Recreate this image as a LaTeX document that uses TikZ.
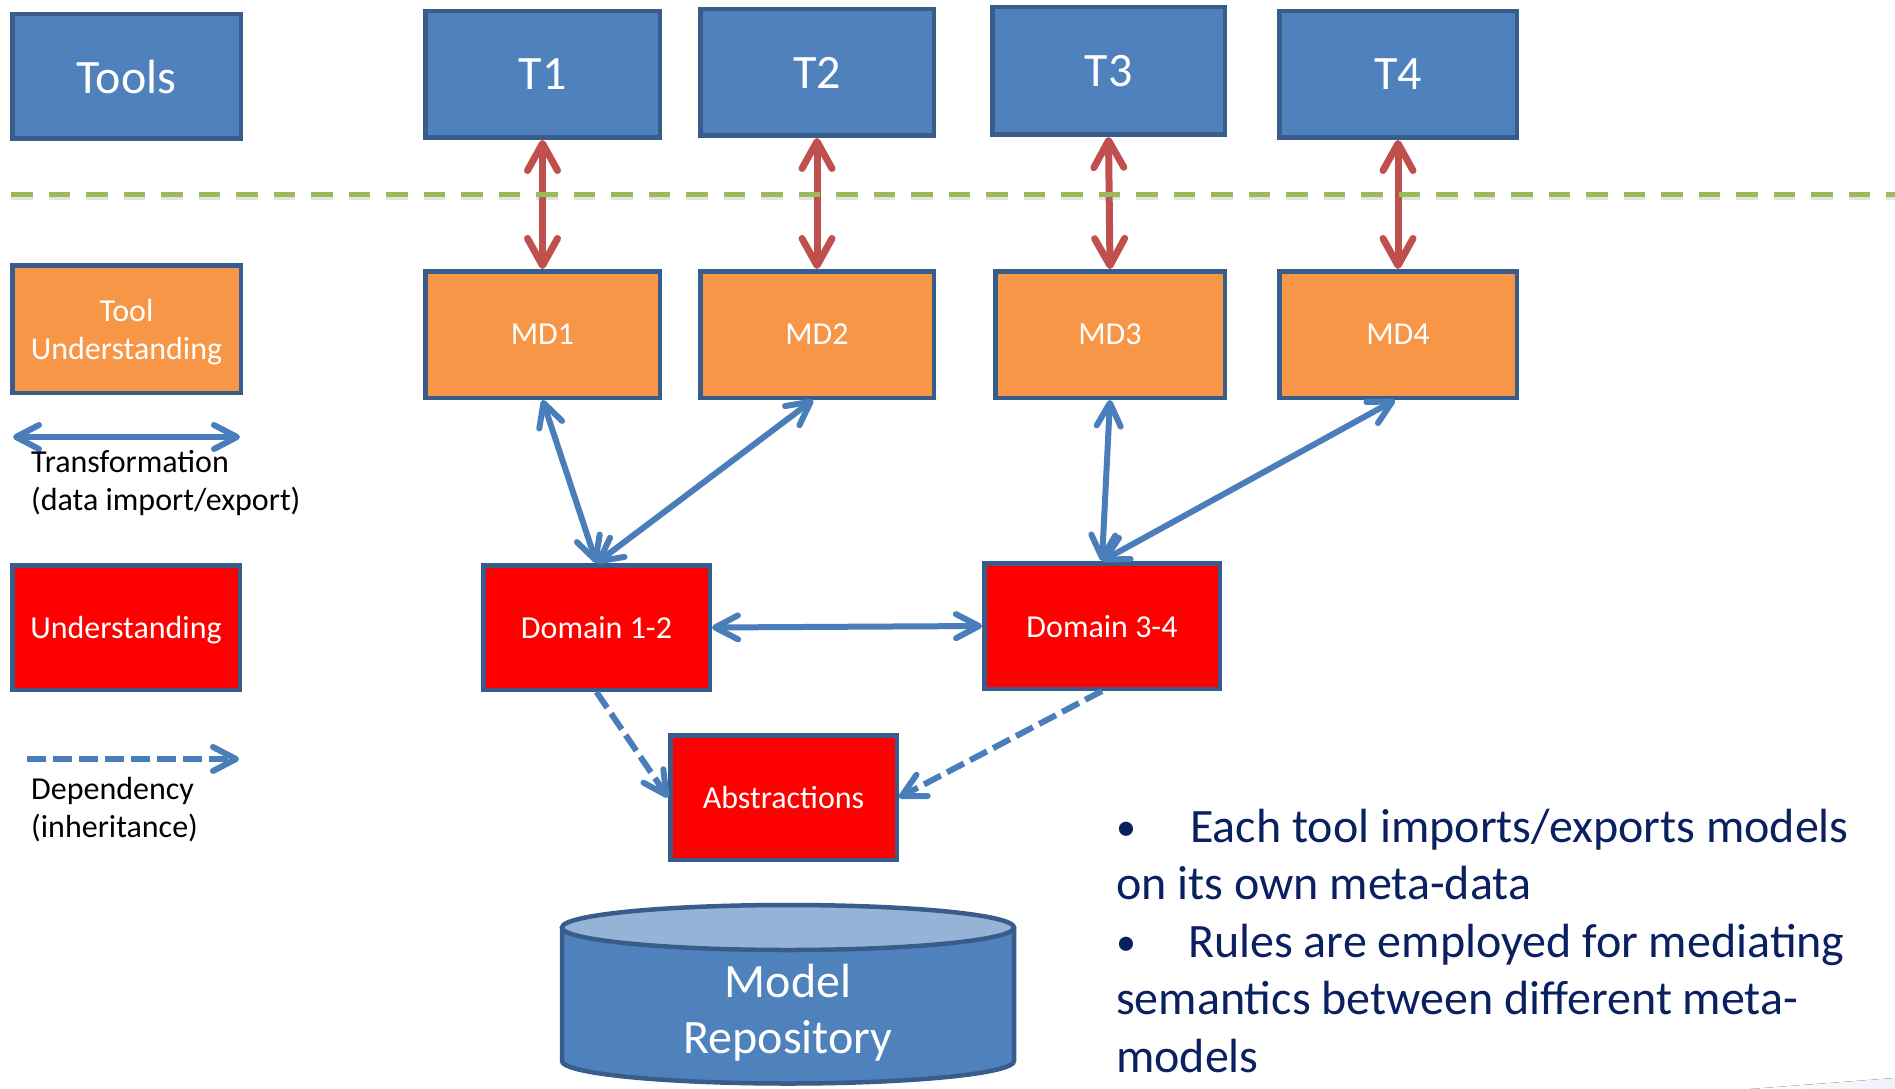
\documentclass[tikz,border=0pt]{standalone}
\usepackage{fontspec}
\setmainfont{Carlito}
\usetikzlibrary{arrows.meta}
\definecolor{toolblue}{HTML}{4F81BD}
\definecolor{boxline}{HTML}{385D8A}
\definecolor{mdorange}{HTML}{F79646}
\definecolor{domred}{HTML}{FF0000}
\definecolor{linkred}{HTML}{C0504D}
\definecolor{linkblue}{HTML}{4A7EBB}
\definecolor{sepgreen}{HTML}{9BBB59}
\definecolor{notenavy}{HTML}{0A2060}
\definecolor{drumtop}{HTML}{95B3D7}
\definecolor{swoosh}{HTML}{EEF1FA}

\begin{document}
\begin{tikzpicture}[x=1pt,y=-1pt,
  box/.style={draw=boxline, line width=4.5pt, text=white, inner sep=0pt, align=center,
    text depth=0pt, font=\fontsize{32}{38}\selectfont},
  toolbox/.style={box, fill=toolblue, font=\fontsize{48}{56}\selectfont},
  metabox/.style={box, fill=mdorange},
  domainbox/.style={box, fill=domred},
  sz/.style 2 args={minimum width=#1pt, minimum height=#2pt},
  legendtext/.style={inner sep=0pt, anchor=base west, text=black, font=\fontsize{32}{38}\selectfont},
  bullettext/.style={inner sep=0pt, anchor=base west, text=notenavy, font=\fontsize{48}{57}\selectfont},
  bulletmark/.style={bullettext, font=\fontsize{40}{57}\selectfont},
  drumtext/.style={inner sep=0pt, anchor=base, text=white, font=\fontsize{48}{58}\selectfont},
  redlink/.style={draw=linkred, line width=7pt,
    {Straight Barb[length=27pt,width=30pt,round]}-{Straight Barb[length=27pt,width=30pt,round]}},
  bluelink/.style={draw=linkblue, line width=6pt,
    {Straight Barb[length=23pt,width=24pt,round]}-{Straight Barb[length=23pt,width=24pt,round]}},
  bluedep/.style={draw=linkblue, line width=6pt, dash pattern=on 19pt off 7pt,
    -{Straight Barb[length=23pt,width=24pt,round]}},
]
\useasboundingbox (0,0) rectangle (1895,1089);

% tool layer
\node[toolbox, sz={228.5}{124.5}] (tools) at (126.5,76.5) {Tools};
\node[toolbox, sz={234.5}{126.5}] (t1) at (542.5,74.5) {T1};
\node[toolbox, sz={233.5}{126.5}] (t2) at (817,72.5) {T2};
\node[toolbox, sz={232.5}{127.5}] (t3) at (1108.5,71) {T3};
\node[toolbox, sz={237.5}{126.5}] (t4) at (1398,74.5) {T4};

% meta-data layer
\node[metabox, sz={228.5}{127.5}] (toolund) at (126.5,329) {Tool\\Understanding};
\node[metabox, sz={234.5}{126.5}] (md1) at (542.5,334.5) {MD1};
\node[metabox, sz={233.5}{126.5}] (md2) at (817,334.5) {MD2};
\node[metabox, sz={229.5}{126.5}] (md3) at (1110,334.5) {MD3};
\node[metabox, sz={237.5}{126.5}] (md4) at (1398,334.5) {MD4};

% domain layer
\node[domainbox, sz={227.5}{124.5}] (und) at (126,627.5) {Understanding};
\node[domainbox, sz={226.5}{124.5}] (d12) at (596.5,627.5) {Domain 1-2};
\node[domainbox, sz={235.5}{125.5}] (d34) at (1102,626) {Domain 3-4};
\node[domainbox, sz={226.5}{124.5}] (abs) at (783.5,797.5) {Abstractions};

% tool <-> meta-data transformations
\draw[redlink] (t1.south) -- (md1.north);
\draw[redlink] (t2.south) -- (md2.north);
\draw[redlink] (t3.south) -- (md3.north);
\draw[redlink] (t4.south) -- (md4.north);

% separator between tools and meta-data
\coordinate (sep-a) at (11,194);
\coordinate (sep-b) at (1895,194);
\draw[gray, opacity=0.22, line width=5pt, dash pattern=on 21.5pt off 16pt]
  ([yshift=-3.5pt]sep-a) -- ([yshift=-3.5pt]sep-b);
\draw[sepgreen, line width=5pt, dash pattern=on 21.5pt off 16pt] (sep-a) -- (sep-b);

% meta-data <-> domain transformations
\draw[bluelink] (md1.south) -- (d12.north);
\draw[bluelink] ([xshift=-4pt]md2.south) -- (d12.north);
\draw[bluelink] (md3.south) -- (d34.north);
\draw[bluelink] ([xshift=-3pt]md4.south) -- (d34.north);
\draw[bluelink] (d12.east) -- (d34.west);

% dependencies
\draw[bluedep] (d12.south) -- (abs.west);
\draw[bluedep] (d34.south) -- (abs.east);

% legend
\coordinate (tr-a) at (13,437);
\coordinate (tr-b) at (240,437);
\draw[bluelink] (tr-a) -- (tr-b);
\node[legendtext] (tr-1) at (31,472) {Transformation};
\node[legendtext] (tr-2) at (31,510) {(data import/export)};
\coordinate (dep-a) at (27,759);
\coordinate (dep-b) at (239,759);
\draw[bluedep] (dep-a) -- (dep-b);
\node[legendtext] (dep-1) at (31,799) {Dependency};
\node[legendtext] (dep-2) at (31,837) {(inheritance)};

% model repository drum
\fill[toolblue] (562,927.5) -- (562,1061) arc[start angle=180, end angle=0, x radius=226, y radius=22.5]
  -- (1014,927.5) -- cycle;
\draw[boxline, line width=4.5pt] (562,927.5) -- (562,1061) arc[start angle=180, end angle=0, x radius=226, y radius=22.5]
  -- (1014,927.5);
\draw[boxline, line width=4.5pt, fill=drumtop] (788,927.5) ellipse[x radius=226, y radius=22.5];
\node[drumtext] (repo-1) at (788,997) {Model};
\node[drumtext] (repo-2) at (788,1053) {Repository};

% notes
\node[bulletmark] (b1) at (1116,840) {•};
\node[bullettext] (n1) at (1190,842) {Each tool imports/exports models};
\node[bullettext] (n2) at (1116,899) {on its own meta-data};
\node[bulletmark] (b2) at (1116,955) {•};
\node[bullettext] (n3) at (1188,957) {Rules are employed for mediating};
\node[bullettext] (n4) at (1116,1014) {semantics between different meta-};
\node[bullettext] (n5) at (1116,1072) {models};

% corner swoosh
\fill[left color=white, right color=swoosh] (1750,1089) -- (1895,1078) -- (1895,1089) -- cycle;
\end{tikzpicture}
\end{document}
